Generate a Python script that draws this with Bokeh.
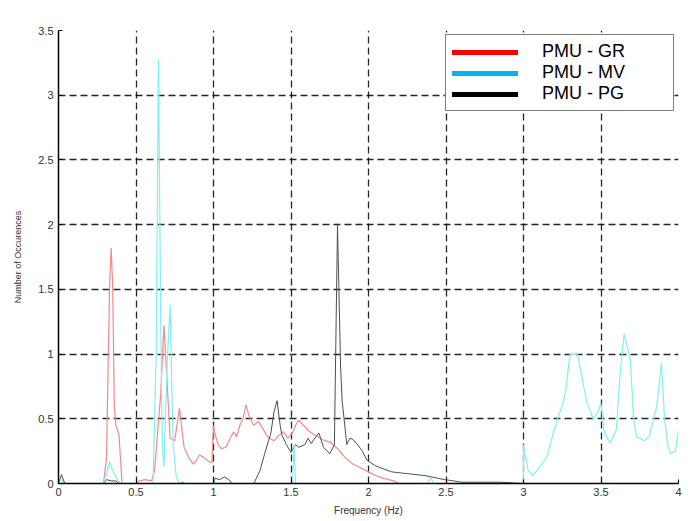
from bokeh.plotting import figure
from bokeh.models import Range1d, FixedTicker, CustomJSTickFormatter, Legend, LegendItem
from bokeh.embed import file_html
from bokeh.resources import INLINE

# ---- data ----
gr_f = [0.00, 0.29, 0.31, 0.32, 0.33, 0.34, 0.35, 0.36, 0.37, 0.39,
        0.41, 0.50, 0.52, 0.56, 0.60, 0.62, 0.64, 0.66, 0.68, 0.70,
        0.72, 0.75, 0.78, 0.81, 0.84, 0.87, 0.89, 0.91, 0.94, 0.97,
        0.99, 1.00, 1.01, 1.03, 1.05, 1.08, 1.10, 1.13, 1.15, 1.17,
        1.19, 1.21, 1.23, 1.26, 1.29, 1.32, 1.35, 1.39, 1.42, 1.45,
        1.48, 1.51, 1.53, 1.55, 1.58, 1.62, 1.66, 1.70, 1.75, 1.80,
        1.85, 1.90, 1.95, 2.00, 2.05, 2.10, 2.16, 2.20, 4.00]
gr_v = [0.00, 0.00, 0.20, 0.90, 1.55, 1.82, 1.50, 0.60, 0.45, 0.38,
        0.00, 0.00, 0.02, 0.03, 0.02, 0.10, 0.40, 0.70, 1.22, 0.80,
        0.35, 0.33, 0.58, 0.28, 0.20, 0.15, 0.18, 0.22, 0.20, 0.17,
        0.16, 0.45, 0.38, 0.30, 0.27, 0.28, 0.33, 0.40, 0.36, 0.45,
        0.50, 0.61, 0.52, 0.45, 0.48, 0.42, 0.36, 0.33, 0.37, 0.40,
        0.35, 0.39, 0.45, 0.49, 0.45, 0.40, 0.37, 0.34, 0.32, 0.27,
        0.20, 0.15, 0.12, 0.09, 0.06, 0.04, 0.02, 0.00, 0.00]

mv_f = [0.00, 0.02, 0.03, 0.29, 0.31, 0.33, 0.35, 0.37, 0.40, 0.61,
        0.63, 0.645, 0.66, 0.67, 0.68, 0.70, 0.72, 0.73, 0.74, 0.76,
        0.78, 1.51, 1.52, 1.53, 2.38, 2.40, 2.42, 3.00, 3.00, 3.03,
        3.06, 3.10, 3.15, 3.19, 3.22, 3.25, 3.27, 3.29, 3.30, 3.35,
        3.38, 3.41, 3.45, 3.48, 3.50, 3.52, 3.56, 3.60, 3.62, 3.65,
        3.69, 3.71, 3.73, 3.78, 3.81, 3.84, 3.86, 3.89, 3.91, 3.93,
        3.95, 3.98, 4.00]
mv_v = [0.00, 0.04, 0.00, 0.00, 0.08, 0.17, 0.10, 0.05, 0.00, 0.00,
        1.00, 3.28, 1.20, 0.30, 0.13, 0.90, 1.38, 0.80, 0.30, 0.05,
        0.00, 0.00, 0.30, 0.00, 0.00, 0.05, 0.00, 0.00, 0.30, 0.10,
        0.06, 0.12, 0.20, 0.38, 0.50, 0.60, 0.70, 0.90, 1.00, 1.00,
        0.80, 0.62, 0.50, 0.55, 0.62, 0.40, 0.31, 0.42, 0.80, 1.16,
        0.95, 0.50, 0.36, 0.33, 0.36, 0.50, 0.60, 0.93, 0.50, 0.30,
        0.23, 0.25, 0.41]

pg_f = [0.00, 0.02, 0.04, 0.29, 0.31, 0.34, 0.37, 0.39, 0.79, 0.80,
        0.81, 1.00, 1.01, 1.04, 1.07, 1.10, 1.12, 1.26, 1.30, 1.33,
        1.37, 1.39, 1.41, 1.43, 1.44, 1.47, 1.50, 1.53, 1.55, 1.59,
        1.61, 1.63, 1.66, 1.68, 1.71, 1.75, 1.78, 1.80, 1.82, 1.83,
        1.86, 1.88, 1.90, 1.93, 1.96, 1.99, 2.04, 2.08, 2.15, 2.22,
        2.30, 2.37, 2.41, 2.45, 2.49, 2.55, 2.60, 2.70, 2.85, 3.00]
pg_v = [0.00, 0.07, 0.00, 0.00, 0.03, 0.02, 0.02, 0.00, 0.00, 0.01,
        0.00, 0.00, 0.04, 0.03, 0.05, 0.03, 0.00, 0.00, 0.10, 0.23,
        0.39, 0.55, 0.64, 0.45, 0.38, 0.30, 0.24, 0.30, 0.28, 0.30,
        0.35, 0.31, 0.36, 0.39, 0.28, 0.23, 0.30, 2.00, 0.90, 0.64,
        0.30, 0.35, 0.34, 0.30, 0.25, 0.18, 0.14, 0.12, 0.09, 0.08,
        0.07, 0.06, 0.05, 0.04, 0.03, 0.02, 0.01, 0.01, 0.01, 0.00]

x_ticks = [0, 0.5, 1, 1.5, 2, 2.5, 3, 3.5, 4]
y_ticks = [0, 0.5, 1, 1.5, 2, 2.5, 3, 3.5]
series_names = ["PMU - GR", "PMU - MV", "PMU - PG"]

FONT = "Liberation Sans"
NAN = float("nan")

p = figure(width=696, height=521, output_backend="svg", toolbar_location=None,
           x_range=Range1d(0, 4), y_range=Range1d(0, 3.5),
           min_border_left=58, min_border_right=18, min_border_top=30,
           min_border_bottom=38)
p.outline_line_color = None
p.background_fill_color = "white"
p.border_fill_color = "white"

fmt = CustomJSTickFormatter(code="return String(Math.round(tick*10)/10);")
for ax, ticks in ((p.xaxis[0], x_ticks), (p.yaxis[0], y_ticks)):
    ax.ticker = FixedTicker(ticks=ticks)
    ax.formatter = fmt
    ax.minor_tick_line_color = None
    ax.major_tick_in = 4
    ax.major_tick_out = 0
    ax.major_tick_line_color = "black"
    ax.axis_line_color = "black"
    ax.axis_line_width = 1.5
    ax.major_label_text_font = FONT
    ax.major_label_text_font_size = "11px"
    ax.major_label_text_color = "#333333"
    ax.axis_label_text_font = FONT
    ax.axis_label_text_font_style = "normal"
    ax.axis_label_text_color = "#333333"

p.xaxis.axis_label = "Frequency (Hz)"
p.xaxis.axis_label_text_font_size = "10px"
p.xaxis.major_label_standoff = 4
p.xaxis.axis_label_standoff = 6
p.yaxis.axis_label = "Number of Occurences"
p.yaxis.axis_label_text_font_size = "9px"
p.yaxis.major_label_standoff = 5
p.yaxis.axis_label_standoff = 12

for g in (p.xgrid[0], p.ygrid[0]):
    g.grid_line_color = "black"
    g.grid_line_dash = "7 4"
    g.grid_line_width = 1.3
    g.grid_line_alpha = 0.85

p.line(gr_f, gr_v, line_color="#f28a8a", line_width=1.2)
p.line(pg_f, pg_v, line_color="#505050", line_width=1.0)
p.line(mv_f, mv_v, line_color="#80f0f0", line_width=1.2)

# legend swatches (bold colours as in the reference legend); no visible data
r1 = p.line([NAN, NAN], [NAN, NAN], line_color="#ff0000", line_width=5, line_cap="round")
r2 = p.line([NAN, NAN], [NAN, NAN], line_color="#00b4f0", line_width=5, line_cap="round")
r3 = p.line([NAN, NAN], [NAN, NAN], line_color="#000000", line_width=5, line_cap="round")
legend = Legend(items=[LegendItem(label=series_names[0], renderers=[r1]),
                       LegendItem(label=series_names[1], renderers=[r2]),
                       LegendItem(label=series_names[2], renderers=[r3])],
                location="top_right")
legend.margin = 4
legend.padding = 6
legend.spacing = 0
legend.glyph_width = 66
legend.glyph_height = 20
legend.label_height = 20
legend.label_width = 125
legend.label_standoff = 24
legend.label_text_font = FONT
legend.label_text_font_size = "18px"
legend.label_text_color = "black"
legend.border_line_color = "black"
legend.border_line_width = 1.5
legend.background_fill_color = "white"
legend.background_fill_alpha = 1.0
p.add_layout(legend)

open("out.html", "w").write(file_html(p, INLINE))
